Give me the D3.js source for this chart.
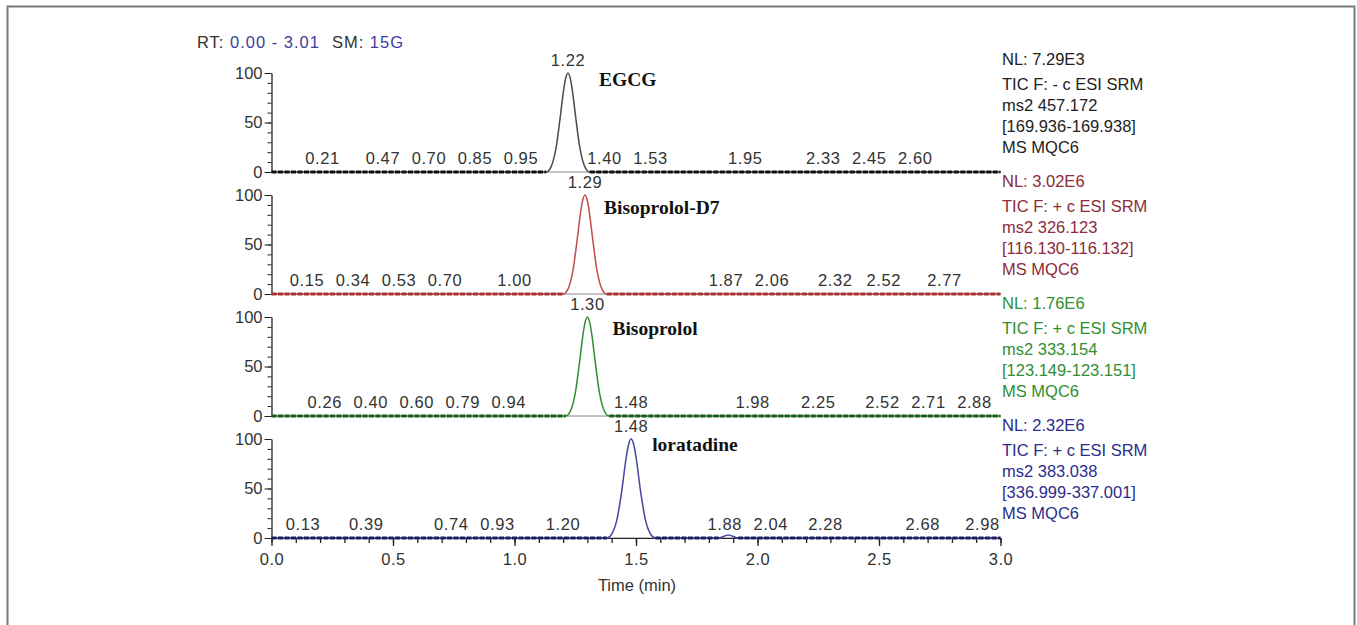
<!DOCTYPE html>
<html>
<head>
<meta charset="utf-8">
<script src="https://cdn.jsdelivr.net/npm/d3@7"></script>
<style>
  body { margin: 0; background: #fff; }
  svg text { font-family: Arial, "Liberation Sans", sans-serif; }
</style>
</head>
<body>
<div id="chart"></div>
<script>
var width = 1357,
    height = 625;

// compounds, one trace each (top to bottom)
var compounds = ["EGCG", "Bisoprolol-D7", "Bisoprolol", "loratadine"];

// apex retention time of the main peak (min)
var apexTimes = [1.22, 1.29, 1.30, 1.48];

// other retention times labelled by the software
var minorPeaks = [
  [0.21, 0.47, 0.70, 0.85, 0.95, 1.40, 1.53, 1.95, 2.33, 2.45, 2.60],
  [0.15, 0.34, 0.53, 0.70, 1.00, 1.87, 2.06, 2.32, 2.52, 2.77],
  [0.26, 0.40, 0.60, 0.79, 0.94, 1.48, 1.98, 2.25, 2.52, 2.71, 2.88],
  [0.13, 0.39, 0.74, 0.93, 1.20, 1.88, 2.04, 2.28, 2.68, 2.98]
];

// trace points [time (min), relative abundance]
var egcgTrace = [[0, 0], [1.13, 0], [1.15, 5], [1.17, 23], [1.19, 59], [1.20, 79], [1.21, 94], [1.22, 100],
  [1.23, 94], [1.24, 79], [1.25, 59], [1.27, 23], [1.29, 5], [1.31, 0], [3.0, 0]];
var bisoD7Trace = [[0, 0], [1.20, 0], [1.22, 5], [1.24, 23], [1.26, 59], [1.27, 79], [1.28, 94], [1.29, 100],
  [1.30, 94], [1.31, 79], [1.32, 59], [1.34, 23], [1.36, 5], [1.38, 0], [3.0, 0]];
var bisoTrace = [[0, 0], [1.21, 0], [1.23, 5], [1.25, 23], [1.27, 59], [1.28, 79], [1.29, 94], [1.30, 100],
  [1.31, 94], [1.32, 79], [1.33, 59], [1.35, 23], [1.37, 5], [1.39, 0], [3.0, 0]];
var loraTrace = [[0, 0], [1.38, 0], [1.40, 4], [1.42, 17], [1.44, 45], [1.46, 82], [1.47, 95], [1.48, 100],
  [1.49, 95], [1.50, 82], [1.52, 45], [1.54, 17], [1.56, 4], [1.58, 0], [1.84, 0], [1.88, 3], [1.92, 0], [3.0, 0]];
var traces = [egcgTrace, bisoD7Trace, bisoTrace, loraTrace];

// axis ticks
var xTicks = [0, 0.5, 1.0, 1.5, 2.0, 2.5, 3.0];
var xMinorTicks = d3.range(0, 31).map(function(d) { return d / 10; });
var yTicks = [0, 50, 100];
var yMinorTicks = [0, 10, 20, 30, 40, 50, 60, 70, 80, 90, 100];

// scan header text per trace
var nlLabels = ["NL: 7.29E3", "NL: 3.02E6", "NL: 1.76E6", "NL: 2.32E6"];
var filterLabels = ["TIC F: - c ESI SRM", "TIC F: + c ESI SRM", "TIC F: + c ESI SRM", "TIC F: + c ESI SRM"];
var ms2Labels = ["ms2 457.172", "ms2 326.123", "ms2 333.154", "ms2 383.038"];
var rangeLabels = ["[169.936-169.938]", "[116.130-116.132]", "[123.149-123.151]", "[336.999-337.001]"];
var sampleLabels = ["MS MQC6", "MS MQC6", "MS MQC6", "MS MQC6"];

// styling per trace
var traceColor = ["#4a4a4a", "#c44a4a", "#2f8f2f", "#4646a0"];
var baseColor = ["#111111", "#a83232", "#1d5a1d", "#1e1e5e"];
var textColor = ["#222222", "#8e2a3a", "#2f8f2f", "#2c2c8c"];
// compound label offset from apex [dx px, dy px below 100%]
var nameOffset = [[31, 13], [19, 19], [25, 18], [21, 12]];

var svg = d3.select("#chart").append("svg")
    .attr("width", width)
    .attr("height", height);

// figure frame
svg.append("rect")
    .attr("x", 7.5).attr("y", 6.5)
    .attr("width", 1347).attr("height", 660)
    .attr("fill", "none")
    .attr("stroke", "#7a7a7a")
    .attr("stroke-width", 2);

var x = d3.scaleLinear()
    .domain([0, 3])
    .range([271.5, 1000.5]);

var panelHeight = 99,
    panelStep = 122,
    firstBase = 172;

// push crowded peak labels apart, like the acquisition software does
function spreadLabels(times, minGap) {
  var pos = times.map(function(t) { return x(t); });
  for (var it = 0; it < 60; it++) {
    for (var k = 1; k < pos.length; k++) {
      var overlap = minGap - (pos[k] - pos[k - 1]);
      if (overlap > 0) { pos[k - 1] -= overlap / 2; pos[k] += overlap / 2; }
    }
    pos[pos.length - 1] = Math.min(pos[pos.length - 1], x(3) - 18);
  }
  return pos;
}

// header
var head = svg.append("text")
    .attr("x", 197).attr("y", 48)
    .style("font-size", "16.5px")
    .style("letter-spacing", "1px");
head.append("tspan").attr("fill", "#333").text("RT: ");
head.append("tspan").attr("fill", "#3d3d9e").text("0.00 - 3.01");
head.append("tspan").attr("fill", "#333").attr("dx", 12).text("SM: ");
head.append("tspan").attr("fill", "#3d3d9e").text("15G");

compounds.forEach(function(name, i) {
  var base = firstBase + i * panelStep;
  var y = d3.scaleLinear()
      .domain([0, 100])
      .range([base, base - panelHeight]);

  var g = svg.append("g").attr("class", "panel");

  // y axis with minor ticks
  g.append("g")
      .attr("transform", "translate(" + x(0) + ",0)")
      .call(d3.axisLeft(y).tickValues(yMinorTicks).tickSize(4).tickSizeOuter(0).tickFormat(""))
      .call(function(a) { a.select(".domain").remove(); a.selectAll("line").attr("stroke", "#222"); });
  g.append("g")
      .attr("transform", "translate(" + x(0) + ",0)")
      .call(d3.axisLeft(y).tickValues(yTicks).tickSize(7).tickSizeOuter(0).tickPadding(2))
      .call(function(a) {
        a.select(".domain").attr("stroke", "#222").attr("stroke-width", 1.3);
        a.selectAll("line").attr("stroke", "#222");
        a.selectAll("text").attr("fill", "#333").style("font-size", "16.5px");
      });

  // zero line
  g.append("line")
      .attr("x1", x(0)).attr("x2", x(3))
      .attr("y1", base).attr("y2", base)
      .attr("stroke", "#888").attr("stroke-width", 1);

  // x axis on the bottom panel only
  if (i === compounds.length - 1) {
    g.append("g")
        .attr("transform", "translate(0," + base + ")")
        .call(d3.axisBottom(x).tickValues(xMinorTicks).tickSize(5).tickSizeOuter(0).tickFormat(""))
        .call(function(a) { a.select(".domain").remove(); a.selectAll("line").attr("stroke", "#222").attr("stroke-width", 1.3); });
    g.append("g")
        .attr("transform", "translate(0," + base + ")")
        .call(d3.axisBottom(x).tickValues(xTicks).tickSize(8).tickSizeOuter(0).tickPadding(7).tickFormat(d3.format(".1f")))
        .call(function(a) {
          a.select(".domain").attr("stroke", "#222");
          a.selectAll("line").attr("stroke", "#222").attr("stroke-width", 1.3);
          a.selectAll("text").attr("fill", "#333").style("font-size", "16.5px").style("letter-spacing", "0.5px");
        });
    svg.append("text")
        .attr("x", 637).attr("y", 591)
        .attr("text-anchor", "middle")
        .attr("fill", "#333")
        .style("font-size", "16.5px")
        .text("Time (min)");
  }

  // trace
  var line = d3.line()
      .x(function(d) { return x(d[0]); })
      .y(function(d) { return y(d[1]); })
      .curve(d3.curveMonotoneX);

  g.append("path")
      .datum(traces[i])
      .attr("fill", "none")
      .attr("stroke", traceColor[i])
      .attr("stroke-width", 1.5)
      .attr("d", line);

  // heavy noisy baseline
  g.append("path")
      .datum(traces[i])
      .attr("fill", "none")
      .attr("stroke", baseColor[i])
      .attr("stroke-width", 2.8)
      .attr("stroke-dasharray", "5,1.5")
      .attr("d", line.defined(function(d) { return d[1] <= 0.5; }));

  // peak labels
  g.append("text")
      .attr("x", x(apexTimes[i]))
      .attr("y", y(100) - 7)
      .attr("text-anchor", "middle")
      .attr("fill", "#333")
      .style("font-size", "16.5px")
      .style("letter-spacing", "0.6px")
      .text(apexTimes[i].toFixed(2));

  var labelX = spreadLabels(minorPeaks[i], 46);
  g.selectAll(".minor")
      .data(minorPeaks[i])
    .enter().append("text")
      .attr("class", "minor")
      .attr("x", function(d, k) { return labelX[k]; })
      .attr("y", base - 8.5)
      .attr("text-anchor", "middle")
      .attr("fill", "#333")
      .style("font-size", "16.5px")
      .style("letter-spacing", "0.6px")
      .text(function(d) { return d.toFixed(2); });

  // compound name
  g.append("text")
      .attr("x", x(apexTimes[i]) + nameOffset[i][0])
      .attr("y", y(100) + nameOffset[i][1])
      .attr("fill", "#111")
      .style("font-family", "'Times New Roman', 'Liberation Serif', serif")
      .style("font-weight", "bold")
      .style("font-size", "19.5px")
      .text(name);

  // scan header on the right
  var info = [nlLabels[i], filterLabels[i], ms2Labels[i], rangeLabels[i], sampleLabels[i]];
  var infoDy = [-14, 11, 32, 53, 74];
  g.selectAll(".info")
      .data(info)
    .enter().append("text")
      .attr("class", "info")
      .attr("x", 1002)
      .attr("y", function(d, k) { return y(100) + infoDy[k]; })
      .attr("dy", "0.36em")
      .attr("fill", textColor[i])
      .style("font-size", "16.5px")
      .text(function(d) { return d; });
});
</script>
</body>
</html>
